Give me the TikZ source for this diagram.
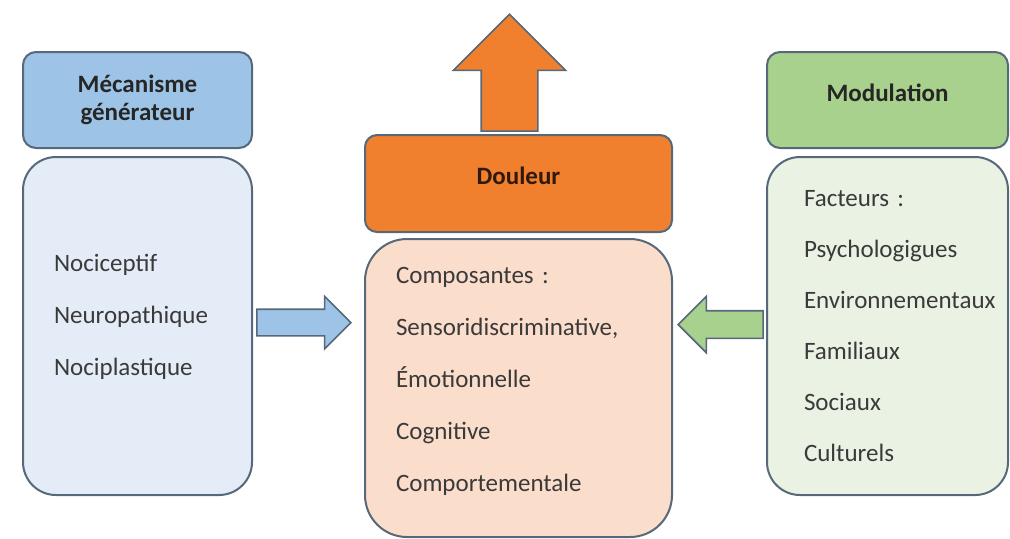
\documentclass[tikz,border=0pt]{standalone}
\usepackage{fontspec}
\setmainfont{Carlito}
\usepackage{tikz}
\definecolor{mecadrk}{HTML}{9DC3E6}
\definecolor{mecalgt}{HTML}{E4EDF7}
\definecolor{douldrk}{HTML}{F07F2E}
\definecolor{doullgt}{HTML}{FBDDCB}
\definecolor{moddrk}{HTML}{A9D18E}
\definecolor{modlgt}{HTML}{EAF2E3}
\definecolor{edgegray}{HTML}{56687A}
\definecolor{txtgray}{HTML}{3A3A3A}
\usetikzlibrary{positioning, shapes.arrows}
\tikzset{
	headbox/.style={rectangle, rounded corners=6.5pt, draw=edgegray, line width=1pt, font=\fontsize{12.5}{14}\selectfont\bfseries, text=black!85, align=center},
	bodybox/.style={rectangle, rounded corners=16.5pt, draw=edgegray, line width=1pt, font=\fontsize{12.5}{26}\selectfont, text=txtgray, align=left},
	blockarrow/.style={single arrow, draw=edgegray, line width=0.8pt, single arrow tip angle=90, anchor=tip}
}

\begin{document}
\begin{tikzpicture}[x=0.5pt, y=-0.5pt]
		\useasboundingbox (0,0) rectangle (1010,538);
		
		\node[headbox, fill=mecadrk, minimum width=114.5pt, minimum height=48pt] (meca) at (137.5,100) {Mécanisme\\générateur};
		\node[bodybox, fill=mecalgt, minimum height=169pt, text width=83.5pt, inner xsep=15.5pt, text depth=63pt, below=3.5pt of meca] (mecab) {Nociceptif\\Neuropathique\\Nociplastique};
		
		\node[headbox, fill=douldrk, minimum width=153.5pt, minimum height=48.5pt, rounded corners=6pt, text depth=8pt, text=black!80!douldrk] (doul) at (518.5,183.5) {Douleur};
		\node[bodybox, fill=doullgt, minimum height=149pt, text width=122.5pt, inner xsep=15.5pt, rounded corners=21pt, text depth=113pt, below=2.5pt of doul] (doulb) {Composantes~:\\Sensoridiscriminative,\\Émotionnelle\\Cognitive\\Comportementale};
		
		\node[headbox, fill=moddrk, minimum width=120.5pt, minimum height=48pt, text depth=7pt] (modu) at (887.5,100) {Modulation};
		\node[bodybox, fill=modlgt, minimum height=169pt, text width=83.5pt, inner xsep=18.5pt, font=\fontsize{12.5}{25.5}\selectfont, below=3.5pt of modu] (modub) {Facteurs~:\\Psychologigues\\Environnementaux\\Familiaux\\Sociaux\\Culturels};
		
		\node[blockarrow, fill=douldrk, rotate=90, minimum height=58.5pt, inner sep=13.75pt, single arrow head extend=14pt] (up) at (509.5,13) {}; % sortie
		\node[blockarrow, fill=mecadrk, minimum height=47pt, inner sep=6.25pt, single arrow head extend=6.5pt] (arrL) at (352,322.5) {}; % vers douleur
		\node[blockarrow, fill=moddrk, rotate=180, minimum height=42.5pt, inner sep=6.5pt, single arrow head extend=7.25pt] (arrR) at (677,324.5) {}; % vers douleur
		
	\end{tikzpicture}
\end{document}
